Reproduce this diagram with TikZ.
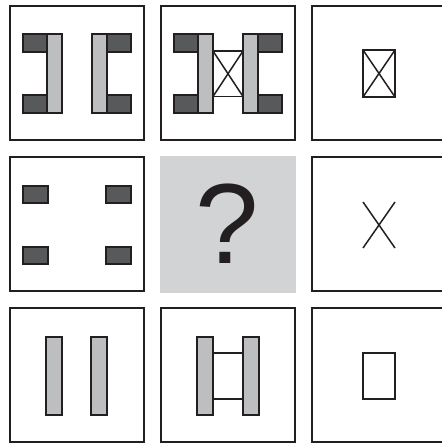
\documentclass[tikz,border=0pt]{standalone}
\usepackage{fontspec}
\setmainfont{Liberation Sans}
\definecolor{ink}{HTML}{231F20}
\definecolor{darkfill}{HTML}{58595B}
\definecolor{lightfill}{HTML}{BCBEC0}
\definecolor{qgray}{HTML}{D1D3D4}
\begin{document}
\begin{tikzpicture}[x=1pt,y=-1pt,
  cellbox/.style={draw=ink,line width=2.2pt,minimum width=134pt,minimum height=134pt,inner sep=0pt,outer sep=0pt},
  darkblk/.style={draw=ink,fill=darkfill,line width=2.5pt},
  lightbar/.style={draw=ink,fill=lightfill,line width=2.5pt},
  thickrect/.style={draw=ink,line width=2.7pt},
  thinline/.style={draw=ink,line width=1.5pt}]
\useasboundingbox (0,0) rectangle (441,443);
% cell frames
\node[cellbox] (c11) at (77,73) {};
\node[cellbox] (c12) at (228,73) {};
\node[cellbox] (c13) at (379,73) {};
\node[cellbox] (c21) at (77,224) {};
\node[fill=qgray,minimum width=136pt,minimum height=137pt,inner sep=0pt] (c22) at (228,224.5) {};
\node[cellbox] (c23) at (379,224) {};
\node[cellbox] (c31) at (77,375) {};
\node[cellbox] (c32) at (228,375) {};
\node[cellbox] (c33) at (379,375) {};
% cell 1
\begin{scope}[shift={(10,6)}]
  \path[darkblk] (13,28) rectangle (37,46);
  \path[darkblk] (13,89) rectangle (37,107);
  \path[darkblk] (97,28) rectangle (121,46);
  \path[darkblk] (97,89) rectangle (121,107);
  \path[lightbar] (37,28) rectangle (52,107);
  \path[lightbar] (82,28) rectangle (97,107);
\end{scope}
% cell 2
\begin{scope}[shift={(161,6)}]
  \path[darkblk] (13,28) rectangle (37,46);
  \path[darkblk] (13,89) rectangle (37,107);
  \path[darkblk] (97,28) rectangle (121,46);
  \path[darkblk] (97,89) rectangle (121,107);
  \path[thinline] (52,45) -- (82,45) (52,90.5) -- (82,90.5);
  \path[thinline] (52,45) -- (82,90.5) (82,45) -- (52,90.5);
  \path[lightbar] (37,28) rectangle (52,107);
  \path[lightbar] (82,28) rectangle (97,107);
\end{scope}
% cell 3
\begin{scope}[shift={(312,6)}]
  \path[thinline] (51,44) -- (83,91) (83,44) -- (51,91);
  \path[thickrect] (51,44) rectangle (83,91);
\end{scope}
% cell 4
\begin{scope}[shift={(10,157)}]
  \path[darkblk] (13,29) rectangle (38,46);
  \path[darkblk] (13,90) rectangle (38,107);
  \path[darkblk] (96,29) rectangle (121,46);
  \path[darkblk] (96,90) rectangle (121,107);
\end{scope}
% cell 5
\node[text=ink,inner sep=0pt,font=\fontsize{114}{114}\selectfont] (qmark) at (227,224) {?};
% cell 6
\begin{scope}[shift={(312,157)}]
  \path[thinline] (51,45) -- (83,91) (83,45) -- (51,91);
\end{scope}
% cell 7
\begin{scope}[shift={(10,308)}]
  \path[lightbar] (36,29) rectangle (52,107);
  \path[lightbar] (81,29) rectangle (97,107);
\end{scope}
% cell 8
\begin{scope}[shift={(161,308)}]
  \path[thinline] (52,45) -- (82,45) (52,91) -- (82,91);
  \path[lightbar] (36,29) rectangle (52,107);
  \path[lightbar] (82,29) rectangle (98,107);
\end{scope}
% cell 9
\begin{scope}[shift={(312,308)}]
  \path[thickrect] (51,45) rectangle (83,91);
\end{scope}
\end{tikzpicture}
\end{document}
